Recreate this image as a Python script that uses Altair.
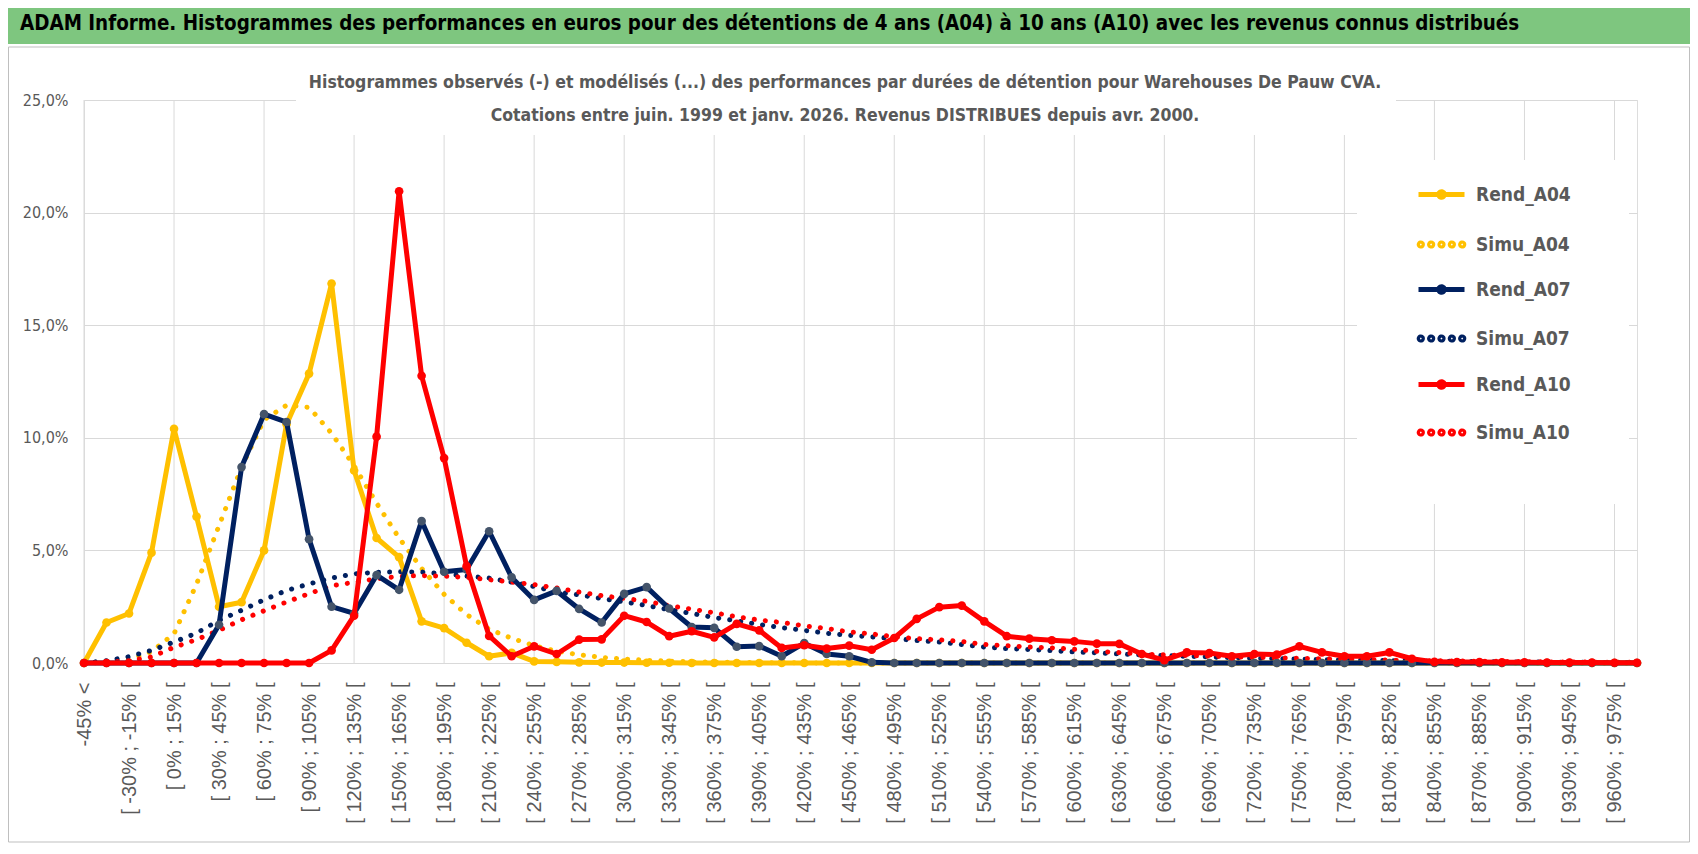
import altair as alt
import pandas as pd

# Categories (x axis)
cats = ["-45% <"] + [f"[ {k}% ; {k + 15}% [" for k in range(-45, 975, 15)] + ["975% >="]

rend_names = ["Rend_A04", "Rend_A07", "Rend_A10"]
simu_names = ["Simu_A04", "Simu_A07", "Simu_A10"]
line_colors = ["#FFC000", "#002060", "#FF0000"]
marker_colors = ["#FFC000", "#44546A", "#FF0000"]

# values in percent
rend_a04 = [0, 1.8, 2.2, 4.9, 10.4, 6.5, 2.5, 2.7, 5.0, 10.6,
            12.85, 16.85, 8.55, 5.55, 4.7, 1.85, 1.55, 0.9, 0.3, 0.45,
            0.07, 0.05, 0.03, 0.02, 0.02, 0.01, 0.01, 0, 0, 0,
            0, 0, 0, 0, 0, 0, 0, 0, 0, 0,
            0, 0, 0, 0, 0, 0, 0, 0, 0, 0,
            0, 0, 0, 0, 0, 0, 0, 0, 0, 0,
            0, 0, 0, 0, 0, 0, 0, 0, 0, 0]
simu_a04 = [0, 0.05, 0.15, 0.5, 1.3, 3.5, 6.1, 8.7, 10.8, 11.45,
            11.35, 10.2, 8.75, 7.1, 5.55, 4.2, 3.05, 2.15, 1.5, 1.1,
            0.77, 0.52, 0.37, 0.25, 0.18, 0.12, 0.08, 0.05, 0.04, 0.03,
            0.02, 0.01, 0.01, 0, 0, 0, 0, 0, 0, 0,
            0, 0, 0, 0, 0, 0, 0, 0, 0, 0,
            0, 0, 0, 0, 0, 0, 0, 0, 0, 0,
            0, 0, 0, 0, 0, 0, 0, 0, 0, 0]
rend_a07 = [0, 0, 0, 0, 0, 0, 1.7, 8.7, 11.05, 10.7,
            5.5, 2.5, 2.2, 3.9, 3.25, 6.3, 4.05, 4.15, 5.85, 3.8,
            2.8, 3.2, 2.4, 1.8, 3.07, 3.37, 2.42, 1.6, 1.56, 0.72,
            0.75, 0.3, 0.88, 0.4, 0.3, 0.03, 0, 0, 0, 0,
            0, 0, 0, 0, 0, 0, 0, 0, 0, 0,
            0, 0, 0, 0, 0, 0, 0, 0, 0, 0,
            0, 0, 0, 0, 0, 0, 0, 0, 0, 0]
simu_a07 = [0, 0.1, 0.28, 0.56, 0.93, 1.33, 1.89, 2.34, 2.81, 3.22,
            3.51, 3.77, 3.96, 4.03, 4.05, 4.04, 3.96, 3.86, 3.77, 3.59,
            3.4, 3.15, 3.03, 2.86, 2.72, 2.55, 2.37, 2.2, 2.02, 1.87,
            1.71, 1.57, 1.45, 1.32, 1.23, 1.16, 1.08, 1.0, 0.93, 0.82,
            0.71, 0.64, 0.6, 0.55, 0.49, 0.45, 0.4, 0.36, 0.33, 0.3,
            0.27, 0.24, 0.21, 0.19, 0.17, 0.15, 0.13, 0.12, 0.1, 0.09,
            0.08, 0.07, 0.06, 0.05, 0.04, 0.04, 0.03, 0.03, 0.02, 0.02]
rend_a10 = [0, 0, 0, 0, 0, 0, 0, 0, 0, 0,
            0, 0.56, 2.1, 10.05, 20.95, 12.75, 9.1, 4.3, 1.2, 0.3,
            0.74, 0.4, 1.04, 1.05, 2.1, 1.82, 1.19, 1.41, 1.14, 1.74,
            1.45, 0.67, 0.79, 0.64, 0.77, 0.59, 1.11, 1.96, 2.48, 2.55,
            1.85, 1.19, 1.08, 1.01, 0.96, 0.86, 0.85, 0.4, 0.13, 0.47,
            0.44, 0.3, 0.4, 0.37, 0.74, 0.47, 0.3, 0.3, 0.47, 0.19,
            0.05, 0.04, 0.04, 0.03, 0.03, 0.02, 0.02, 0.02, 0.01, 0.01]
simu_a10 = [0, 0.03, 0.1, 0.27, 0.7, 1.04, 1.45, 1.92, 2.32, 2.71,
            3.08, 3.43, 3.58, 3.74, 3.85, 3.88, 3.86, 3.8, 3.7, 3.59,
            3.48, 3.33, 3.15, 2.99, 2.87, 2.74, 2.54, 2.39, 2.23, 2.05,
            1.91, 1.8, 1.65, 1.53, 1.38, 1.29, 1.17, 1.08, 1.03, 0.96,
            0.82, 0.77, 0.71, 0.67, 0.61, 0.52, 0.46, 0.4, 0.36, 0.33,
            0.3, 0.27, 0.25, 0.23, 0.21, 0.19, 0.17, 0.15, 0.13, 0.12,
            0.1, 0.09, 0.08, 0.07, 0.06, 0.05, 0.04, 0.04, 0.03, 0.03]

values = {"Rend_A04": rend_a04, "Simu_A04": simu_a04, "Rend_A07": rend_a07,
          "Simu_A07": simu_a07, "Rend_A10": rend_a10, "Simu_A10": simu_a10}

y_ticks = [0, 0.05, 0.10, 0.15, 0.20, 0.25]
x_label_cats = cats[0::2]
x_grid_cats = cats[0:69:4]

banner_text = ("ADAM Informe. Histogrammes des performances en euros pour des détentions "
               "de 4 ans (A04) à 10 ans (A10) avec les revenus connus distribués")
subtitle_1 = ("Histogrammes observés (-) et modélisés (...) des performances par durées "
              "de détention pour Warehouses De Pauw CVA.")
subtitle_2 = "Cotations entre juin. 1999 et janv. 2026. Revenus DISTRIBUES depuis avr. 2000."

rows = []
for s, vals in values.items():
    for i, v in enumerate(vals):
        rows.append({"cat": cats[i], "idx": i, "series": s, "value": v / 100.0})
df = pd.DataFrame(rows)

W, H = 1553, 563
NARROW = "DejaVu Sans Condensed, Liberation Sans, sans-serif"
GREY = "#595959"

xscale = alt.Scale(type="point", domain=cats, padding=0)
xaxis = alt.Axis(values=x_label_cats, labelAngle=-90, labelFontSize=20, labelColor=GREY,
                 labelFont="Liberation Sans", grid=False, ticks=False, domain=False,
                 labelPadding=19, title=None, labelOverlap=False, labelLimit=300)
yscale = alt.Scale(domain=[0, 0.25], nice=False, zero=True)
yaxis = alt.Axis(values=y_ticks, labelExpr="replace(format(datum.value, '.1%'), '.', ',')",
                 grid=True, gridColor="#D9D9D9", gridWidth=1, domain=False, ticks=False,
                 labelPadding=16, labelFontSize=16, labelColor=GREY, labelFont=NARROW,
                 title=None)

X = alt.X("cat:N", scale=xscale, axis=xaxis)
Y = alt.Y("value:Q", scale=yscale, axis=yaxis)


def circle_path(cx, r):
    return (f"M{cx + r},0A{r},{r},0,1,1,{cx - r},0A{r},{r},0,1,1,{cx + r},0")


rend_symbol = "M-1,0L1,0" + circle_path(0, 0.12) + circle_path(0, 0.05)
simu_symbol = "".join(circle_path(c, 0.07) + circle_path(c, 0.025)
                      for c in [-0.9, -0.45, 0, 0.45, 0.9])

common_legend = dict(title=None, orient="none", symbolSize=2116, symbolStrokeWidth=5,
                     labelFont=NARROW, labelFontSize=19, labelFontWeight="bold",
                     labelColor=GREY, labelOffset=9, rowPadding=56, symbolDash=[1, 0])
# the simu legend is drawn first: it carries the white background for both
simu_legend = alt.Legend(legendX=1273, legendY=60, symbolType=simu_symbol,
                         padding=59, fillColor="white", **common_legend)
rend_legend = alt.Legend(legendX=1320, legendY=57, symbolType=rend_symbol,
                         padding=12, **common_legend)
rend_scale = alt.Scale(domain=rend_names, range=line_colors)
simu_scale = alt.Scale(domain=simu_names, range=line_colors)

one = pd.DataFrame({"k": [0]})

grid_rules = alt.Chart(pd.DataFrame({"cat": x_grid_cats})).mark_rule(
    color="#D9D9D9", strokeWidth=1).encode(x=X, y=alt.value(0), y2=alt.value(H))

cover = alt.Chart(one).mark_rect(color="white").encode(
    x=alt.value(212), x2=alt.value(1312), y=alt.value(-40), y2=alt.value(35))

sub1 = alt.Chart(one).mark_text(align="center", baseline="alphabetic", font=NARROW,
                                fontSize=17.5, fontWeight="bold", color=GREY).encode(
    x=alt.value(761), y=alt.value(-12), text=alt.value(subtitle_1))
sub2 = alt.Chart(one).mark_text(align="center", baseline="alphabetic", font=NARROW,
                                fontSize=17.5, fontWeight="bold", color=GREY).encode(
    x=alt.value(761), y=alt.value(21), text=alt.value(subtitle_2))

simu_layers = []
for s in simu_names:
    d = df[df.series == s]
    simu_layers.append(
        alt.Chart(d).mark_line(strokeWidth=5, strokeCap="round", strokeDash=[0.1, 11]).encode(
            x=X, y=Y, order=alt.Order("idx:Q"),
            color=alt.Color("series:N", scale=simu_scale, legend=simu_legend)))
simu_group = alt.layer(*simu_layers)

rend_layers = []
for s, mc in zip(rend_names, marker_colors):
    d = df[df.series == s]
    rend_layers.append(
        alt.Chart(d).mark_line(strokeWidth=5, strokeJoin="round", strokeCap="round").encode(
            x=X, y=Y, order=alt.Order("idx:Q"),
            color=alt.Color("series:N", scale=rend_scale, legend=rend_legend)))
    rend_layers.append(
        alt.Chart(d).mark_circle(size=75, opacity=1).encode(x=X, y=Y, color=alt.value(mc)))
rend_group = alt.layer(*rend_layers)

banner = alt.Chart(one).mark_rect(color="#7EC67F").encode(
    x=alt.value(-76), x2=alt.value(1606), y=alt.value(-92), y2=alt.value(-56))
banner_t = alt.Chart(one).mark_text(align="left", baseline="alphabetic", font=NARROW,
                                    fontSize=20.4, fontWeight="bold", color="black").encode(
    x=alt.value(-64), y=alt.value(-70), text=alt.value(banner_text))
frame = alt.Chart(one).mark_rect(fillOpacity=0, stroke="#BFBFBF", strokeWidth=1).encode(
    x=alt.value(-75.5), x2=alt.value(1605.5), y=alt.value(-53), y2=alt.value(742))

chart = alt.layer(
    grid_rules, cover, sub1, sub2, simu_group, rend_group, banner, banner_t, frame
).resolve_scale(color="independent").properties(
    width=W, height=H,
    autosize=alt.AutoSizeParams(type="none"),
    padding={"left": 76, "top": 92, "right": 53, "bottom": 183},
).configure_view(stroke=None).configure(background="white")

chart.save("out.html", embed_options={"renderer": "svg", "actions": False})
